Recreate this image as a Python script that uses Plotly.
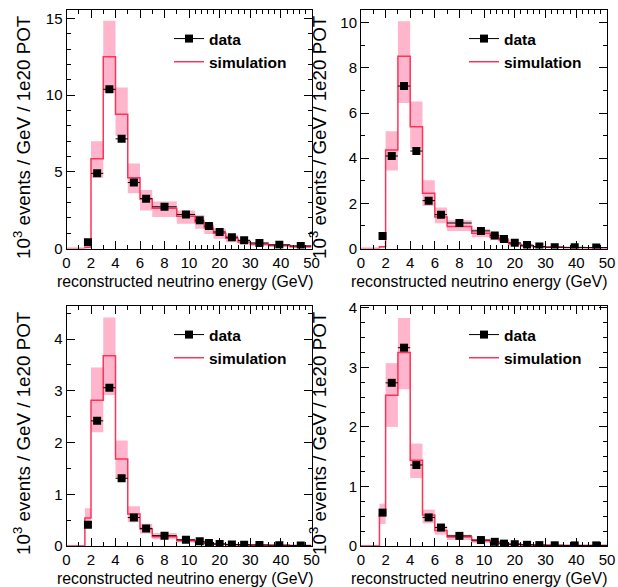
import plotly.graph_objects as go
from plotly.subplots import make_subplots

# ---------------- data ----------------
bin_edges = [0, 1.5, 2, 3, 4, 5, 6, 7, 9, 12, 15, 18, 22, 26, 30, 36, 43, 50]
tick_energies = [0, 2, 4, 6, 8, 10, 20, 30, 40, 50]
tick_labels = ["0", "2", "4", "6", "8", "10", "20", "30", "40", "50"]
minor_energies = [1, 3, 5, 7, 9, 12, 14, 16, 18, 22, 24, 26, 28, 32, 34, 36, 38, 42, 44, 46, 48]

# data points start at the 1.5-2 GeV bin; simulation includes the 0-1.5 bin
data_a = [0.40, 4.90, 10.38, 7.15, 4.30, 3.25, 2.72, 2.22, 1.84, 1.46, 1.08, 0.74, 0.53, 0.36, 0.24, 0.17]
sim_a = [0, 0.06, 5.85, 12.5, 8.75, 4.62, 3.22, 2.62, 2.10, 1.72, 1.34, 1.00, 0.67, 0.43, 0.28, 0.19, 0.12]
lo_a = [0.04, 4.62, 10.15, 7.35, 3.60, 2.48, 2.05, 1.62, 1.28, 0.95, 0.64, 0.41, 0.27, 0.17, 0.10, 0.06]
hi_a = [0.08, 7.00, 14.85, 10.50, 5.55, 3.82, 3.06, 2.48, 2.18, 1.70, 1.28, 0.90, 0.58, 0.39, 0.27, 0.18]

data_b = [0.55, 4.10, 7.20, 4.32, 2.12, 1.50, 1.13, 0.78, 0.58, 0.42, 0.25, 0.15, 0.09, 0.06, 0.05, 0.04]
sim_b = [0, 0.08, 4.37, 8.52, 5.40, 2.45, 1.40, 0.97, 0.68, 0.50, 0.35, 0.20, 0.11, 0.07, 0.05, 0.03, 0.02]
lo_b = [0.05, 3.46, 6.45, 4.40, 1.88, 1.12, 0.78, 0.50, 0.37, 0.25, 0.13, 0.07, 0.04, 0.03, 0.02, 0.01]
hi_b = [0.10, 5.20, 10.07, 6.52, 3.02, 1.82, 1.25, 0.86, 0.62, 0.46, 0.28, 0.15, 0.09, 0.07, 0.05, 0.03]

data_c = [0.41, 2.42, 3.06, 1.31, 0.55, 0.34, 0.20, 0.12, 0.09, 0.06, 0.04, 0.03, 0.025, 0.02, 0.015, 0.01]
sim_c = [0, 0.54, 2.82, 3.68, 1.68, 0.62, 0.33, 0.18, 0.10, 0.08, 0.05, 0.035, 0.025, 0.02, 0.015, 0.01, 0.01]
lo_c = [0.47, 2.20, 2.92, 1.33, 0.46, 0.24, 0.13, 0.07, 0.05, 0.03, 0.02, 0.015, 0.01, 0.01, 0.005, 0.005]
hi_c = [0.73, 3.45, 4.42, 2.04, 0.77, 0.43, 0.25, 0.14, 0.11, 0.07, 0.05, 0.04, 0.03, 0.025, 0.02, 0.015]

data_d = [0.56, 2.74, 3.33, 1.36, 0.48, 0.31, 0.17, 0.10, 0.07, 0.04, 0.03, 0.02, 0.015, 0.012, 0.01, 0.01]
sim_d = [0, 0.52, 2.53, 3.25, 1.44, 0.52, 0.26, 0.15, 0.09, 0.06, 0.04, 0.03, 0.02, 0.015, 0.01, 0.01, 0.01]
lo_d = [0.37, 2.00, 2.63, 1.14, 0.38, 0.19, 0.10, 0.05, 0.04, 0.025, 0.015, 0.01, 0.01, 0.005, 0.005, 0.005]
hi_d = [0.71, 3.07, 3.83, 1.72, 0.61, 0.34, 0.19, 0.12, 0.09, 0.06, 0.045, 0.035, 0.025, 0.02, 0.015, 0.015]

y_max = [15.55, 10.57, 4.64, 4.03]
y_ticks = [[0, 5, 10, 15], [0, 2, 4, 6, 8, 10], [0, 1, 2, 3, 4], [0, 1, 2, 3, 4]]
y_minor = [1, 1, 0.5, 0.25]

y_title = "10<sup>3</sup> events / GeV / 1e20 POT"
x_title = "reconstructed neutrino energy (GeV)"

# ---------------- helpers ----------------
def to_axis(e):
    """Piecewise axis: linear 0-10 GeV, compressed by 4 above 10 GeV."""
    return e if e <= 10 else 10 + (e - 10) / 4.0

W, H = 618, 587
RED = "#ff3358"
PINK = "#ffb6cc"
FONT = "Liberation Sans, Arial, Helvetica, sans-serif"

t_edges = [to_axis(e) for e in bin_edges]
t_lo = t_edges[1:-1]
t_hi = t_edges[2:]
t_ctr = [(a + b) / 2 for a, b in zip(t_lo, t_hi)]
t_wid = [b - a for a, b in zip(t_lo, t_hi)]

fig = make_subplots(rows=2, cols=2)

panels = [
    (1, 1, data_a, sim_a, lo_a, hi_a),
    (1, 2, data_b, sim_b, lo_b, hi_b),
    (2, 1, data_c, sim_c, lo_c, hi_c),
    (2, 2, data_d, sim_d, lo_d, hi_d),
]

for i, (r, c, dat, sim, lo, hi) in enumerate(panels):
    leg = "legend" if i == 0 else f"legend{i+1}"
    fig.add_trace(go.Bar(
        x=t_ctr, y=[h - l for h, l in zip(hi, lo)], base=lo, width=t_wid,
        marker=dict(color=PINK, line=dict(width=0)), showlegend=False,
        hoverinfo="skip"), row=r, col=c)
    fig.add_trace(go.Scatter(
        x=[None], y=[None], mode="lines+markers", name="data",
        line=dict(color="black", width=1),
        marker=dict(symbol="square", size=8, color="black"),
        legend=leg, legendrank=1, showlegend=True), row=r, col=c)
    fig.add_trace(go.Scatter(
        x=t_edges, y=sim + [sim[-1]], mode="lines", line_shape="hv",
        line=dict(color=RED, width=1.5), name="simulation",
        legend=leg, legendrank=2, showlegend=True), row=r, col=c)
    fig.add_trace(go.Scatter(
        x=t_ctr, y=dat, mode="markers",
        marker=dict(symbol="square", size=8, color="black"),
        error_x=dict(type="data", symmetric=False,
                     array=[w / 2 for w in t_wid], arrayminus=[w / 2 for w in t_wid],
                     color="black", thickness=1, width=0),
        showlegend=False), row=r, col=c)

# geometry (pixels)
x_dom = [(66.5, 311.5), (361, 607)]
y_dom = [(10, 248.5), (306, 546)]

axis_common = dict(showline=True, linecolor="black", linewidth=1, mirror="ticks",
                   ticks="inside", ticklen=8, tickcolor="black", showgrid=False,
                   zeroline=False, automargin=False,
                   tickfont=dict(family=FONT, size=15, color="black"))

for i in range(4):
    r, c = divmod(i, 2)
    xa = "xaxis" if i == 0 else f"xaxis{i+1}"
    ya = "yaxis" if i == 0 else f"yaxis{i+1}"
    x0, x1 = x_dom[c]
    yt, yb = y_dom[r]
    fig.layout[xa].update(
        domain=[x0 / W, x1 / W], range=[0, to_axis(50)],
        tickmode="array", tickvals=[to_axis(e) for e in tick_energies], ticktext=tick_labels,
        minor=dict(tickmode="array", tickvals=[to_axis(e) for e in minor_energies],
                   ticks="inside", ticklen=4, tickcolor="black"),
        **axis_common)
    fig.layout[ya].update(
        domain=[1 - yb / H, 1 - yt / H], range=[0, y_max[i]],
        tickmode="array", tickvals=y_ticks[i],
        minor=dict(dtick=y_minor[i], ticks="inside", ticklen=4, tickcolor="black"),
        **axis_common)

# legends
leg_pos = [(169, 22), (464, 22), (169, 318), (464, 318)]
for i, (lx, ly) in enumerate(leg_pos):
    key = "legend" if i == 0 else f"legend{i+1}"
    fig.layout[key] = dict(x=lx / W, y=1 - ly / H, xanchor="left", yanchor="top",
                           bgcolor="rgba(0,0,0,0)", borderwidth=0,
                           font=dict(family=FONT, size=15.5, color="black", weight="bold"))

annotations = []
for c, xc in enumerate([22, 318]):
    for r, top in enumerate([13, 309]):
        annotations.append(dict(text=y_title, textangle=-90, xref="paper", yref="paper",
                                x=xc / W, y=1 - top / H, xanchor="center", yanchor="top",
                                showarrow=False, font=dict(family=FONT, size=18.8, color="black")))
for c, xr in enumerate([315, 609]):
    for r, yc in enumerate([282, 578]):
        annotations.append(dict(text=x_title, xref="paper", yref="paper",
                                x=xr / W, y=1 - yc / H, xanchor="right", yanchor="middle",
                                showarrow=False, font=dict(family=FONT, size=15.8, color="black")))

fig.update_layout(width=W, height=H, margin=dict(l=0, r=0, t=0, b=0, autoexpand=False),
                  paper_bgcolor="white", plot_bgcolor="white",
                  barmode="overlay", annotations=annotations,
                  font=dict(family=FONT, color="black"))

fig.write_html("out.html", config={"displayModeBar": False},
               post_script="document.body.style.margin='0';document.body.style.overflow='hidden';")
